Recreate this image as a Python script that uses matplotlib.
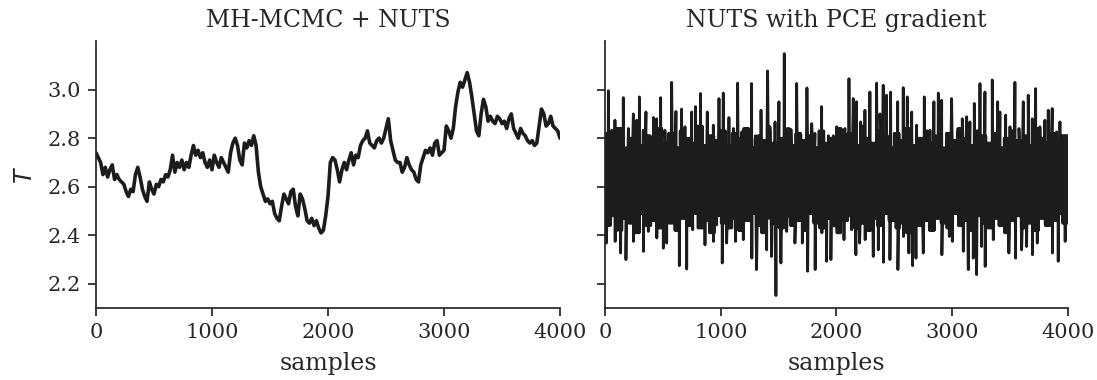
import numpy as np
import matplotlib.pyplot as plt
import seaborn as sns

sns.set_theme(style="ticks")
plt.rcParams['font.family'] = ['DejaVu Serif']

# MH-MCMC + NUTS trace, every 20 samples
mh_step = 20
mh_values = [2.74, 2.72, 2.70, 2.65, 2.68, 2.64, 2.67, 2.69, 2.63, 2.65,
             2.63, 2.62, 2.61, 2.58, 2.56, 2.59, 2.58, 2.65, 2.68, 2.64,
             2.59, 2.56, 2.54, 2.62, 2.59, 2.57, 2.61, 2.60, 2.63, 2.62,
             2.65, 2.64, 2.67, 2.73, 2.66, 2.70, 2.68, 2.71, 2.67, 2.70,
             2.68, 2.73, 2.77, 2.73, 2.75, 2.72, 2.74, 2.70, 2.68, 2.71,
             2.67, 2.73, 2.70, 2.68, 2.72, 2.70, 2.68, 2.66, 2.74, 2.78,
             2.80, 2.77, 2.71, 2.69, 2.78, 2.76, 2.79, 2.77, 2.81, 2.77,
             2.66, 2.60, 2.57, 2.54, 2.55, 2.53, 2.54, 2.49, 2.47, 2.46,
             2.52, 2.57, 2.55, 2.53, 2.58, 2.59, 2.52, 2.48, 2.57, 2.55,
             2.51, 2.46, 2.45, 2.47, 2.44, 2.46, 2.43, 2.41, 2.42, 2.48,
             2.56, 2.70, 2.72, 2.71, 2.67, 2.62, 2.67, 2.70, 2.67, 2.71,
             2.74, 2.69, 2.73, 2.72, 2.77, 2.79, 2.80, 2.83, 2.78, 2.77,
             2.76, 2.79, 2.80, 2.78, 2.80, 2.84, 2.88, 2.79, 2.75, 2.71,
             2.70, 2.70, 2.66, 2.68, 2.72, 2.69, 2.67, 2.66, 2.63, 2.62,
             2.69, 2.72, 2.75, 2.74, 2.76, 2.73, 2.78, 2.79, 2.73, 2.74,
             2.75, 2.85, 2.83, 2.80, 2.84, 2.93, 2.99, 3.03, 3.01, 3.04,
             3.07, 3.03, 2.97, 2.90, 2.83, 2.81, 2.90, 2.96, 2.93, 2.87,
             2.89, 2.87, 2.86, 2.89, 2.88, 2.86, 2.87, 2.84, 2.88, 2.90,
             2.84, 2.82, 2.80, 2.84, 2.82, 2.81, 2.79, 2.78, 2.79, 2.77,
             2.78, 2.85, 2.92, 2.90, 2.85, 2.86, 2.89, 2.85, 2.84, 2.83,
             2.80]

# NUTS with PCE gradient: spike tops and bottoms
nuts_up_s = [29, 58, 86, 115, 158, 202, 245, 274, 297, 331, 354, 389, 418, 446, 481, 518,
             576, 613, 662, 691, 749, 783, 826, 884, 936, 985, 1022, 1071, 1109, 1146, 1181,
             1209, 1267, 1296, 1348, 1405, 1425, 1469, 1503, 1549, 1607, 1656, 1693, 1745,
             1786, 1814, 1872, 1930, 1973, 2002, 2045, 2073, 2108, 2145, 2174, 2209, 2246,
             2289, 2347, 2376, 2404, 2433, 2468, 2505, 2529, 2577, 2612, 2650, 2693, 2721,
             2759, 2808, 2842, 2880, 2909, 2966, 2995, 3047, 3087, 3125, 3153, 3191, 3240,
             3283, 3346, 3393, 3412, 3462, 3499, 3542, 3577, 3614, 3657, 3692, 3721, 3758,
             3801, 3830, 3864, 3902, 3931, 3974]
nuts_up_v = [2.995, 2.833, 2.874, 2.80, 2.967, 2.84, 2.90, 2.874, 2.97, 2.833, 2.908, 2.765,
             2.885, 2.88, 2.967, 2.833, 3.03, 2.91, 2.92, 2.847, 2.908, 2.93, 2.984, 2.908,
             2.854, 2.963, 2.986, 2.885, 2.84, 3.027, 2.826, 2.84, 3.025, 2.79, 2.915, 3.077,
             2.847, 2.867, 2.95, 3.148, 2.836, 3.025, 2.81, 3.007, 2.86, 2.82, 2.93, 2.81,
             2.81, 2.847, 2.785, 2.84, 3.045, 2.963, 2.95, 2.867, 2.915, 2.99, 3.027, 2.90,
             3.018, 2.977, 2.99, 2.82, 2.95, 3.008, 2.97, 2.908, 2.854, 2.80, 2.97, 2.833,
             2.95, 2.986, 2.956, 2.765, 2.963, 2.81, 2.88, 2.888, 2.867, 2.943, 3.025, 2.99,
             3.04, 2.95, 2.908, 2.895, 2.847, 3.03, 2.84, 2.95, 2.977, 2.88, 3.004, 2.847,
             2.874, 2.915, 2.922, 2.826, 2.867, 2.81]
nuts_dn_s = [12, 86, 135, 181, 245, 331, 374, 446, 504, 533, 642, 706, 758, 826, 864, 936,
             965, 1013, 1051, 1129, 1195, 1267, 1310, 1397, 1440, 1477, 1520, 1570, 1641,
             1705, 1751, 1814, 1872, 1915, 1952, 1996, 2065, 2131, 2168, 2200, 2246, 2318,
             2361, 2404, 2462, 2529, 2577, 2626, 2658, 2687, 2750, 2808, 2860, 2909, 2975,
             3001, 3058, 3096, 3139, 3182, 3211, 3254, 3283, 3355, 3412, 3490, 3548, 3600,
             3643, 3692, 3735, 3801, 3864, 3916, 3974]
nuts_dn_v = [2.368, 2.375, 2.327, 2.30, 2.375, 2.334, 2.416, 2.389, 2.347, 2.368, 2.275,
             2.261, 2.423, 2.436, 2.361, 2.375, 2.443, 2.286, 2.368, 2.375, 2.382, 2.306,
             2.259, 2.34, 2.313, 2.152, 2.286, 2.416, 2.368, 2.368, 2.252, 2.259, 2.41,
             2.293, 2.30, 2.436, 2.382, 2.423, 2.32, 2.368, 2.382, 2.313, 2.34, 2.289, 2.30,
             2.259, 2.395, 2.327, 2.275, 2.306, 2.327, 2.518, 2.49, 2.32, 2.395, 2.375, 2.49,
             2.334, 2.259, 2.306, 2.238, 2.354, 2.272, 2.382, 2.45, 2.327, 2.306, 2.34, 2.354,
             2.32, 2.368, 2.457, 2.327, 2.293, 2.375]
# dense core of the trace: top / bottom reached in each 50-sample bin
band_width = 50
band_top = [2.82, 2.78, 2.84, 2.76, 2.80, 2.83, 2.77, 2.81, 2.79, 2.84,
            2.78, 2.82, 2.76, 2.83, 2.80, 2.78, 2.85, 2.77, 2.81, 2.79,
            2.83, 2.77, 2.82, 2.80, 2.84, 2.76, 2.81, 2.79, 2.83, 2.78,
            2.80, 2.84, 2.77, 2.82, 2.79, 2.81, 2.76, 2.83, 2.78, 2.80,
            2.84, 2.79, 2.82, 2.77, 2.85, 2.80, 2.78, 2.83, 2.81, 2.76,
            2.82, 2.79, 2.84, 2.77, 2.80, 2.83, 2.78, 2.81, 2.76, 2.82,
            2.79, 2.84, 2.80, 2.77, 2.83, 2.81, 2.78, 2.82, 2.76, 2.80,
            2.83, 2.79, 2.81, 2.77, 2.84, 2.80, 2.78, 2.82, 2.79, 2.81]
band_bot = [2.44, 2.48, 2.42, 2.47, 2.45, 2.41, 2.49, 2.44, 2.46, 2.43,
            2.48, 2.45, 2.42, 2.47, 2.44, 2.49, 2.43, 2.46, 2.41, 2.48,
            2.45, 2.43, 2.47, 2.42, 2.46, 2.49, 2.44, 2.41, 2.47, 2.45,
            2.43, 2.48, 2.44, 2.46, 2.42, 2.49, 2.45, 2.43, 2.47, 2.44,
            2.41, 2.46, 2.48, 2.43, 2.45, 2.42, 2.47, 2.44, 2.49, 2.46,
            2.43, 2.45, 2.41, 2.48, 2.44, 2.46, 2.42, 2.47, 2.45, 2.43,
            2.49, 2.44, 2.46, 2.42, 2.48, 2.45, 2.43, 2.47, 2.44, 2.41,
            2.46, 2.48, 2.43, 2.45, 2.42, 2.47, 2.44, 2.46, 2.49, 2.45]

mh_x = np.arange(len(mh_values)) * mh_step

# NUTS trace: core band swings with the read spikes put in
pts = {}
for k, s in enumerate(range(0, 4001, 5)):
    b = min(s // band_width, len(band_top) - 1)
    pts[s] = band_top[b] if k % 2 == 0 else band_bot[b]
for s, v in zip(nuts_up_s, nuts_up_v):
    pts[s] = v
for s, v in zip(nuts_dn_s, nuts_dn_v):
    pts[s + 2 if s in nuts_up_s else s] = v
nuts_x = np.array(sorted(pts))
nuts_y = np.array([pts[s] for s in nuts_x])

fig = plt.figure(figsize=(10.97, 3.8), dpi=100)
ax1 = fig.add_axes([0.0875, 0.189, 0.423, 0.703])
ax2 = fig.add_axes([0.5515, 0.189, 0.422, 0.703], sharey=ax1)

lc = '#1c1c1c'
ax1.plot(mh_x, mh_values, color=lc, lw=2.6)
ax2.plot(nuts_x, nuts_y, color=lc, lw=2.0)

for ax in (ax1, ax2):
    ax.set_xlim(0, 4000)
    ax.set_xticks([0, 1000, 2000, 3000, 4000])
    ax.set_xlabel('samples', fontsize=17, labelpad=7)
    ax.tick_params(labelsize=15, pad=5)
    sns.despine(ax=ax)
ax1.set_ylim(2.1, 3.2)
ax1.set_yticks([2.2, 2.4, 2.6, 2.8, 3.0])
ax1.set_ylabel('$T$', fontsize=17, labelpad=7)
plt.setp(ax2.get_yticklabels(), visible=False)
ax1.set_title('MH-MCMC + NUTS', fontsize=17, pad=10)
ax2.set_title('NUTS with PCE gradient', fontsize=17, pad=10)

fig.savefig('out.png', dpi=100)
